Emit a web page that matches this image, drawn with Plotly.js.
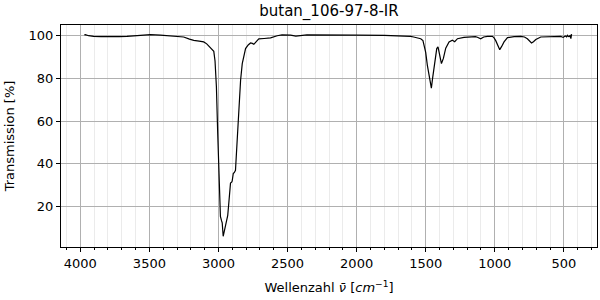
<!DOCTYPE html>
<html>
<head>
<meta charset="utf-8">
<script src="https://cdn.plot.ly/plotly-3.0.1.min.js"></script>
<style>html,body{margin:0;padding:0;background:#fff;}#chart{width:600px;height:300px;}</style>
</head>
<body>
<div id="chart"></div>
<script>
const wavenumber = [3971,3964,3940,3904,3850,3783,3720,3662,3580,3493,3420,3348,3290,3252,3210,3179,3140,3107,3085,3070,3050,3034,3025,3015,3006,2998,2990,2986,2978,2973,2966,2958,2949,2940,2933,2925,2913,2905,2901,2893,2885,2877,2870,2865,2853,2840,2828,2815,2804,2785,2768,2755,2744,2725,2708,2670,2623,2575,2540,2478,2440,2360,2200,2000,1800,1700,1609,1587,1560,1536,1520,1512,1500,1488,1480,1476,1468,1459,1450,1440,1430,1420,1411,1404,1396,1386,1372,1355,1331,1307,1290,1270,1223,1174,1140,1126,1102,1080,1053,1017,1005,993,980,964,950,933,908,860,812,785,764,745,734,720,703,667,600,560,522,505,490,480,474,468,462,455,449,444];
const transmission = [100.2,100.3,99.8,99.5,99.4,99.3,99.4,99.5,100.0,100.3,100.1,99.7,99.6,99.2,98.2,97.6,97.3,96.9,96.0,95.0,94.0,92.5,88,76,55,37,22,15.5,13.5,12.5,6.2,8.5,10.8,14,16,22,31,31.5,32,35.5,36,37,45,52.7,68.3,79,86.8,91.5,93.8,95.5,96.4,96.2,95.8,97.2,98.3,98.5,98.8,99.8,100.2,100.1,99.6,100.2,100.3,100.1,100,99.8,99.5,99.2,98.8,98.4,97.5,95.5,92,86,83,82.5,79,75.3,80,85,90,93.8,94.6,92.5,89.5,86.8,89.2,94,96.9,97.7,97.0,98.4,99,99.2,99.4,99.1,98.4,99.2,99.5,99.5,98.8,97.5,95.5,93.3,94.8,96.9,98.9,99.4,99.5,99.2,98.4,97.2,96.4,97,98,99.2,99.4,99.2,99.5,99.0,99.7,99.3,100,99.5,99.4,99.8,98.4,100.5];
const xTicks = [4000,3500,3000,2500,2000,1500,1000,500];
const yTicks = [20,40,60,80,100];

Plotly.newPlot('chart', [{
  x: wavenumber, y: transmission, type: 'scatter', mode: 'lines',
  line: {color: '#000', width: 1.2}, hoverinfo: 'skip'
}], {
  width: 600, height: 300,
  margin: {l: 61, r: 3, t: 25, b: 53},
  paper_bgcolor: '#fff', plot_bgcolor: '#fff',
  showlegend: false,
  font: {family: 'DejaVu Sans', size: 13, color: '#000'},
  title: {text: 'butan_106-97-8-IR', font: {family: 'DejaVu Sans', size: 15, color: '#000'},
          x: 0.5, xref: 'paper', y: 0.963, yref: 'container', yanchor: 'middle'},
  xaxis: {
    range: [4140, 260], tickvals: xTicks, ticktext: xTicks.map(String),
    showgrid: true, gridcolor: '#b0b0b0', gridwidth: 1,
    ticks: 'outside', ticklen: 4, tickwidth: 1, tickcolor: '#000',
    showline: true, linecolor: '#000', linewidth: 1, mirror: true, zeroline: false,
    tickfont: {family: 'DejaVu Sans', size: 13, color: '#000'},
    minor: {dtick: 100, tick0: 0, showgrid: true, gridcolor: '#ebebeb', gridwidth: 1, ticks: 'outside', ticklen: 2, tickcolor: '#000'},
    title: {text: 'Wellenzahl <i>ν̄</i> [<i>cm</i><sup>−1</sup>]', font: {family: 'DejaVu Sans', size: 13, color: '#000'}, standoff: 13}
  },
  yaxis: {
    range: [1.2, 104.8], tickvals: yTicks, ticktext: yTicks.map(String),
    showgrid: true, gridcolor: '#b0b0b0', gridwidth: 1,
    ticks: 'outside', ticklen: 4, tickwidth: 1, tickcolor: '#000',
    showline: true, linecolor: '#000', linewidth: 1, mirror: true, zeroline: false,
    tickfont: {family: 'DejaVu Sans', size: 13, color: '#000'},
    title: {text: 'Transmission [%]', font: {family: 'DejaVu Sans', size: 13, color: '#000'}, standoff: 11}
  }
}, {staticPlot: true, displayModeBar: false});
</script>
</body>
</html>
